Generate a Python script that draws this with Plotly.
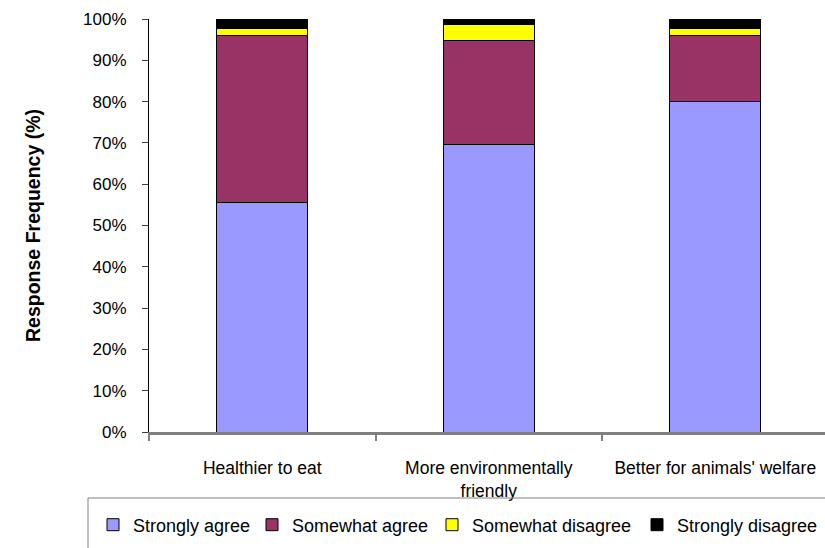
import plotly.graph_objects as go

categories = ["Healthier to eat", "More environmentally<br>friendly", "Better for animals' welfare"]
series_names = ["Strongly agree", "Somewhat agree", "Somewhat disagree", "Strongly disagree"]
strongly_agree = [55.5, 69.7, 80.0]
somewhat_agree = [40.4, 25.1, 15.9]
somewhat_disagree = [1.9, 3.9, 1.9]
strongly_disagree = [2.2, 1.3, 2.2]
y_tick_values = [0, 10, 20, 30, 40, 50, 60, 70, 80, 90, 100]
y_tick_labels = ["0%", "10%", "20%", "30%", "40%", "50%", "60%", "70%", "80%", "90%", "100%"]

colors = ["#9999FF", "#993366", "#FFFF00", "#000000"]
values = [strongly_agree, somewhat_agree, somewhat_disagree, strongly_disagree]

W, H = 825, 548
L, T, B, R = 149, 19, 116, 0
plot_w = W - L - R
plot_h = H - T - B

FONT = "Liberation Sans, Arial, sans-serif"

fig = go.Figure()
legend_left_px = [93, 252, 432, 637]
legend_y_px = 525
for i, (name, vals, col) in enumerate(zip(series_names, values, colors)):
    lg = "legend" if i == 0 else f"legend{i+1}"
    fig.add_trace(go.Bar(
        x=categories, y=vals, name=name,
        marker=dict(color=col, line=dict(color="#000000", width=1)),
        legend=lg,
    ))

cat_px = 226.5
x_max = -0.5 + plot_w / cat_px

layout_legends = {}
for i in range(4):
    key = "legend" if i == 0 else f"legend{i+1}"
    layout_legends[key] = dict(
        x=(legend_left_px[i] - L) / plot_w,
        y=(432 - legend_y_px) / plot_h,
        xanchor="left", yanchor="middle",
        orientation="h",
        font=dict(family=FONT, size=18, color="#000000"),
        bgcolor="rgba(0,0,0,0)",
        borderwidth=0,
        tracegroupgap=0,
        itemclick=False,
    )

fig.update_layout(
    width=W, height=H,
    margin=dict(l=L, r=R, t=T, b=B, pad=0),
    barmode="stack",
    bargap=0.6,
    plot_bgcolor="#FFFFFF",
    paper_bgcolor="#FFFFFF",
    font=dict(family=FONT, size=17, color="#000000"),
    showlegend=True,
    **layout_legends,
    xaxis=dict(
        type="category",
        range=[-0.5, x_max],
        showline=True, linecolor="#808080", linewidth=3,
        ticks="outside", tickson="boundaries", ticklen=6, tickcolor="#808080", tickwidth=2,
        showgrid=False, zeroline=False,
        tickfont=dict(family=FONT, size=17.5, color="#000000"),
        ticklabelstandoff=18,
    ),
    yaxis=dict(
        range=[0, 100],
        tickmode="array",
        tickvals=y_tick_values,
        ticktext=y_tick_labels,
        showline=True, linecolor="#000000", linewidth=1,
        ticks="outside", ticklen=6, tickcolor="#404040", tickwidth=1,
        showgrid=False, zeroline=False,
        tickfont=dict(family=FONT, size=17, color="#000000"),
        ticklabelstandoff=12,
        title=dict(text="<b>Response Frequency (%)</b>", font=dict(family=FONT, size=19.5, color="#000000"), standoff=37),
    ),
    shapes=[
        dict(type="line", xref="paper", yref="paper",
             x0=(88 - L) / plot_w, x1=(W - L) / plot_w,
             y0=(432 - 498) / plot_h, y1=(432 - 498) / plot_h,
             line=dict(color="#808080", width=1)),
        dict(type="line", xref="paper", yref="paper",
             x0=(88 - L) / plot_w, x1=(88 - L) / plot_w,
             y0=(432 - 498) / plot_h, y1=(432 - 560) / plot_h,
             line=dict(color="#808080", width=1)),
    ],
)

fig.write_html("out.html")
